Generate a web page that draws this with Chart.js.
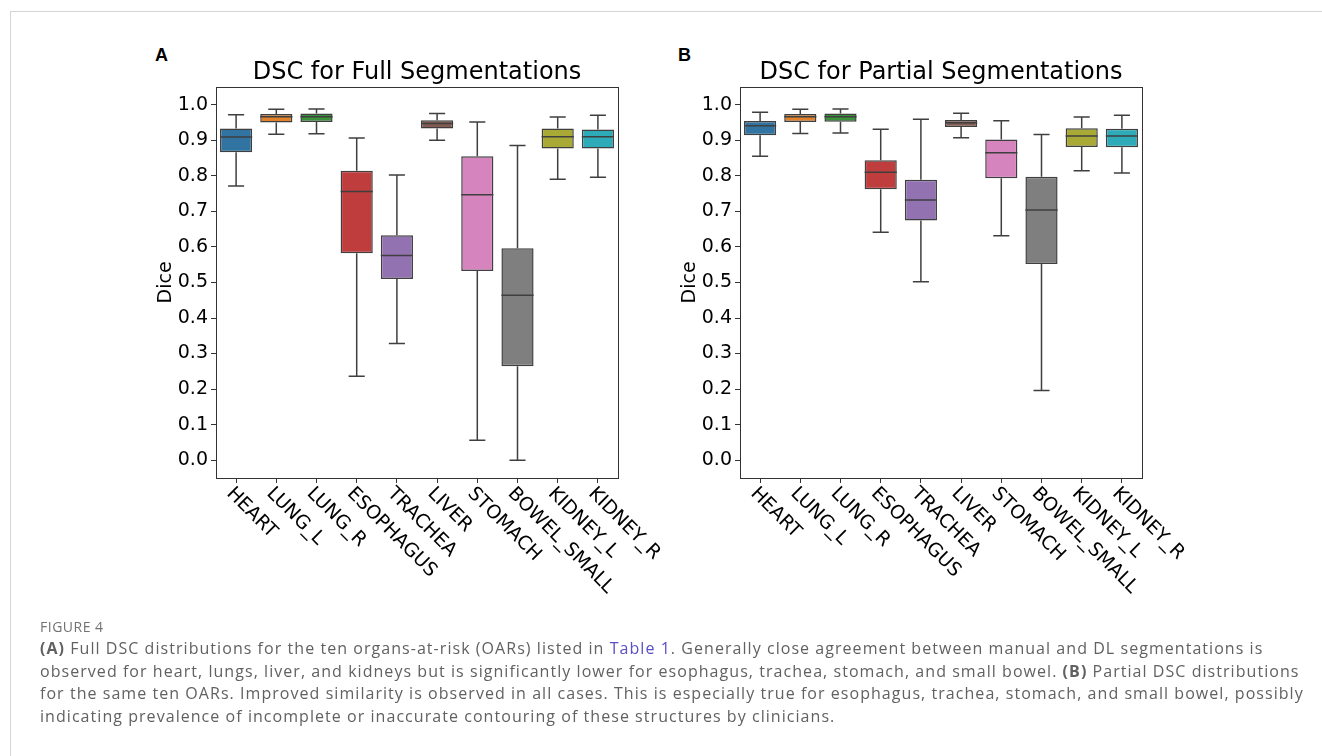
<!DOCTYPE html>
<html>
<head>
<meta charset="utf-8">
<title>Figure 4</title>
<script src="https://cdn.jsdelivr.net/npm/chart.js@4.4.1/dist/chart.umd.min.js"></script>
<style>
  html, body { margin: 0; padding: 0; background: #fff; }
  body { width: 1322px; height: 756px; position: relative; overflow: hidden; }
  .frame { position: absolute; left: 10px; top: 11px; width: 1400px; height: 800px;
           border-left: 1px solid #d4d4d4; border-top: 1px solid #d4d4d4; }
  .panel { position: absolute; top: 40px; width: 540px; height: 580px; }
  .tag { position: absolute; top: 46px; font: bold 18px "Liberation Sans", Arial, sans-serif;
         line-height: 18px; color: #000; }
  .caption { position: absolute; left: 40px; top: 617px; font-family: "Open Sans", sans-serif; color: #616161; }
  .caption .fig { font-size: 14px; line-height: 20px; color: #727272; letter-spacing: 0.5px; }
  .caption .line { font-size: 16px; line-height: 22.5px; white-space: nowrap; letter-spacing: 1.05px; }
  .caption a { color: #5a4fc4; text-decoration: none; }
</style>
</head>
<body>
<div class="frame"></div>
<div class="tag" style="left:155px">A</div>
<div class="tag" style="left:678px">B</div>
<canvas id="full" class="panel" width="540" height="580" style="left:130px"></canvas>
<canvas id="partial" class="panel" width="540" height="580" style="left:654px"></canvas>
<div class="caption">
  <div class="fig">FIGURE 4</div>
  <div class="line"><b>(A)</b> Full DSC distributions for the ten organs-at-risk (OARs) listed in <a href="#">Table 1</a>. Generally close agreement between manual and DL segmentations is</div>
  <div class="line">observed for heart, lungs, liver, and kidneys but is significantly lower for esophagus, trachea, stomach, and small bowel. <b>(B)</b> Partial DSC distributions</div>
  <div class="line">for the same ten OARs. Improved similarity is observed in all cases. This is especially true for esophagus, trachea, stomach, and small bowel, possibly</div>
  <div class="line">indicating prevalence of incomplete or inaccurate contouring of these structures by clinicians.</div>
</div>
<script>
// ── DATA ──────────────────────────────────────────────────────────────────────

const ORGANS = ['HEART', 'LUNG_L', 'LUNG_R', 'ESOPHAGUS', 'TRACHEA', 'LIVER', 'STOMACH', 'BOWEL_SMALL', 'KIDNEY_L', 'KIDNEY_R'];
const BOX_COLORS = ['#3274a1', '#e1812c', '#3a923a', '#c03d3e', '#9372b2', '#845b53', '#d684bd', '#7f7f7f', '#a9aa35', '#2eabb8'];
const Y_TICKS = [0.0, 0.1, 0.2, 0.3, 0.4, 0.5, 0.6, 0.7, 0.8, 0.9, 1.0];

// panel A – full segmentations
const FULL_MIN = [0.771, 0.917, 0.918, 0.236, 0.328, 0.900, 0.056, 0.000, 0.790, 0.796];
const FULL_Q1  = [0.866, 0.950, 0.951, 0.582, 0.510, 0.933, 0.532, 0.264, 0.877, 0.877];
const FULL_MED = [0.909, 0.966, 0.966, 0.756, 0.576, 0.947, 0.747, 0.464, 0.910, 0.910];
const FULL_Q3  = [0.933, 0.974, 0.975, 0.814, 0.633, 0.956, 0.855, 0.596, 0.933, 0.930];
const FULL_MAX = [0.972, 0.987, 0.988, 0.906, 0.802, 0.975, 0.951, 0.885, 0.965, 0.970];

// panel B – partial segmentations
const PART_MIN = [0.855, 0.919, 0.920, 0.641, 0.502, 0.907, 0.631, 0.196, 0.814, 0.808];
const PART_Q1  = [0.914, 0.951, 0.952, 0.762, 0.674, 0.937, 0.793, 0.552, 0.881, 0.880];
const PART_MED = [0.941, 0.966, 0.966, 0.810, 0.732, 0.949, 0.865, 0.704, 0.912, 0.912];
const PART_Q3  = [0.954, 0.974, 0.975, 0.844, 0.789, 0.957, 0.902, 0.797, 0.934, 0.932];
const PART_MAX = [0.979, 0.987, 0.988, 0.931, 0.959, 0.976, 0.955, 0.916, 0.965, 0.970];

// ── STYLE ─────────────────────────────────────────────────────────────────────

const LINE = '#3f3f3f';
const AXIS = '#333';
const FONT = '"DejaVu Sans", sans-serif';

// whiskers, medians, frame and the slanted organ names
const boxPlot = {
  id: 'boxPlot',
  afterDatasetsDraw(chart, args, opts) {
    const ctx = chart.ctx, y = chart.scales.y;
    const bars = chart.getDatasetMeta(0).data;
    ctx.save();
    ctx.strokeStyle = LINE;
    ctx.lineWidth = 1.5;
    bars.forEach((bar, i) => {
      const x = bar.x, half = bar.width / 2, cap = bar.width / 4;
      const lo = y.getPixelForValue(opts.min[i]);
      const hi = y.getPixelForValue(opts.max[i]);
      const q1 = y.getPixelForValue(opts.q1[i]);
      const q3 = y.getPixelForValue(opts.q3[i]);
      const med = y.getPixelForValue(opts.med[i]);
      ctx.beginPath();
      ctx.moveTo(x, q1); ctx.lineTo(x, lo);
      ctx.moveTo(x - cap, lo); ctx.lineTo(x + cap, lo);
      ctx.moveTo(x, q3); ctx.lineTo(x, hi);
      ctx.moveTo(x - cap, hi); ctx.lineTo(x + cap, hi);
      ctx.moveTo(x - half, med); ctx.lineTo(x + half, med);
      ctx.stroke();
    });
    ctx.restore();
  },
  afterDraw(chart) {
    const { ctx, chartArea: a } = chart;
    const xs = chart.scales.x;
    ctx.save();
    ctx.strokeStyle = AXIS;
    ctx.lineWidth = 1;
    ctx.strokeRect(Math.round(a.left) + 0.5, Math.round(a.top) + 0.5,
                   Math.round(a.right - a.left), Math.round(a.bottom - a.top));
    ctx.fillStyle = '#000';
    ctx.font = '19px ' + FONT;
    ctx.textAlign = 'left';
    ctx.textBaseline = 'top';
    ORGANS.forEach((name, i) => {
      const x = xs.getPixelForValue(i);
      ctx.save();
      ctx.translate(x, a.bottom + 6);
      ctx.rotate(Math.PI / 4);
      ctx.fillText(name, 0, 0);
      ctx.restore();
    });
    ctx.restore();
  }
};

function makeChart(id, title, lo, q1, med, q3, hi) {
  return new Chart(document.getElementById(id), {
    type: 'bar',
    data: {
      labels: ORGANS,
      datasets: [{
        data: q1.map((v, i) => [v, q3[i]]),
        backgroundColor: BOX_COLORS,
        borderColor: LINE,
        borderWidth: 1.5,
        borderSkipped: false,
        barPercentage: 0.8,
        categoryPercentage: 1.0,
      }],
    },
    options: {
      responsive: false,
      animation: false,
      devicePixelRatio: 1,
      layout: { padding: { left: 0, right: 52, top: 0, bottom: 0 } },
      plugins: {
        legend: { display: false },
        tooltip: { enabled: false },
        title: {
          display: true, text: title, color: '#000', fullSize: false,
          font: { family: FONT, size: 24, weight: 'normal' },
          padding: { top: 18.1, bottom: 0 },
        },
        boxPlot: { min: lo, q1, med, q3, max: hi },
      },
      scales: {
        x: {
          type: 'category',
          offset: true,
          grid: { display: true, offset: false, drawOnChartArea: false, drawTicks: true, tickLength: 5, color: AXIS },
          border: { display: false },
          ticks: { display: false },
          afterFit: s => { s.height = 142; },
        },
        y: {
          min: -0.05, max: 1.05,
          afterBuildTicks: s => { s.ticks = Y_TICKS.map(v => ({ value: v })); },
          grid: { drawOnChartArea: false, drawTicks: true, tickLength: 5, color: AXIS },
          border: { display: false },
          ticks: { callback: v => v.toFixed(1), color: '#000', padding: 3, autoSkip: false,
                   font: { family: FONT, size: 19 } },
          title: { display: true, text: 'Dice', color: '#000', font: { family: FONT, size: 19 },
                   padding: { top: 24.5, bottom: 0 } },
          afterFit: s => { s.width = 86; },
        },
      },
    },
    plugins: [boxPlot],
  });
}

makeChart('full', 'DSC for Full Segmentations', FULL_MIN, FULL_Q1, FULL_MED, FULL_Q3, FULL_MAX);
makeChart('partial', 'DSC for Partial Segmentations', PART_MIN, PART_Q1, PART_MED, PART_Q3, PART_MAX);
</script>
</body>
</html>
